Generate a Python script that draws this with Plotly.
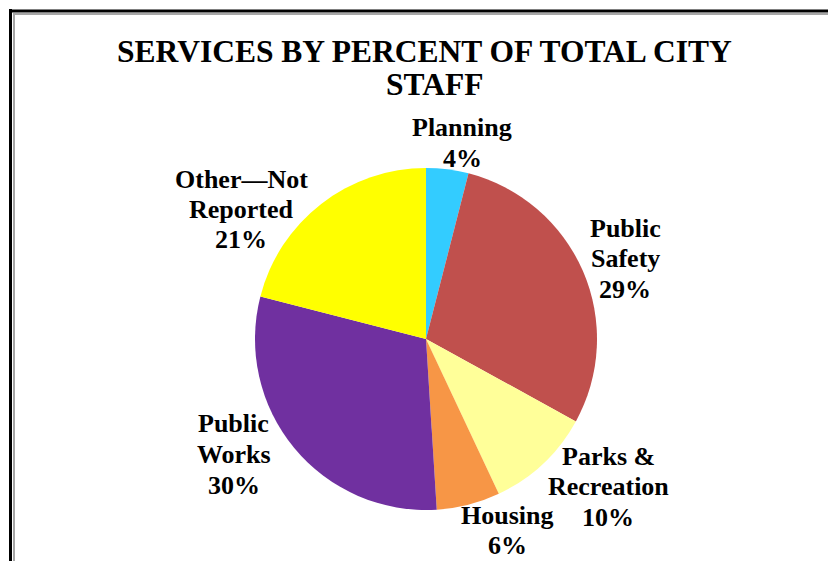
import plotly.graph_objects as go

# ---- data ----
categories = ["Planning", "Public Safety", "Parks & Recreation", "Housing",
              "Public Works", "Other—Not Reported"]
percent = [4, 29, 10, 6, 30, 21]
label_lines = [["Planning"], ["Public", "Safety"], ["Parks &", "Recreation"],
               ["Housing"], ["Public", "Works"], ["Other—Not", "Reported"]]
colors = ["#33CCFF", "#C0504D", "#FFFF99", "#F79646", "#7030A0", "#FFFF00"]
title_lines = ["SERVICES BY PERCENT OF TOTAL CITY", "STAFF"]

# ---- layout (pixel geometry) ----
W, H = 828, 561
FONT = "Liberation Serif, Times New Roman, serif"
cx, cy, r = 426, 339, 171
# centre of the first text line of each slice label (pixels) and line step
label_pos = [(462, 128), (625, 228), (608, 456), (508, 515), (234, 424), (241, 179)]
line_step = 30.5
title_pos = [(425, 52), (434, 85)]


def px(x):
    return x / W


def py(y):
    return 1 - y / H


fig = go.Figure(go.Pie(
    labels=categories,
    values=percent,
    marker=dict(colors=colors, line=dict(width=0)),
    sort=False,
    direction="clockwise",
    rotation=0,
    textinfo="none",
    hoverinfo="label+percent",
    domain=dict(x=[px(cx - r), px(cx + r)], y=[py(cy + r), py(cy - r)]),
    showlegend=False,
))

annotations = []
for (tx, ty), text in zip(title_pos, title_lines):
    annotations.append(dict(
        x=px(tx), y=py(ty), xref="paper", yref="paper", showarrow=False,
        xanchor="center", yanchor="middle", text=f"<b>{text}</b>",
        font=dict(family=FONT, size=31.5, color="black")))

for (lx, ly), lines, val in zip(label_pos, label_lines, percent):
    for i, line in enumerate(lines + [f"{val}%"]):
        annotations.append(dict(
            x=px(lx), y=py(ly + i * line_step), xref="paper", yref="paper",
            showarrow=False, xanchor="center", yanchor="middle",
            text=f"<b>{line}</b>",
            font=dict(family=FONT, size=26, color="black")))

# chart-area frame: black outer rule with a grey inner rule (left and top)
shapes = [
    dict(type="line", xref="paper", yref="paper", x0=px(10.5), x1=px(10.5),
         y0=py(9), y1=0, line=dict(color="black", width=3)),
    dict(type="line", xref="paper", yref="paper", x0=px(9), x1=1,
         y0=py(11), y1=py(11), line=dict(color="black", width=3)),
    dict(type="line", xref="paper", yref="paper", x0=px(14), x1=px(14),
         y0=py(13), y1=0, line=dict(color="#A6A6A6", width=2)),
    dict(type="line", xref="paper", yref="paper", x0=px(13), x1=1,
         y0=py(14), y1=py(14), line=dict(color="#A6A6A6", width=2)),
]

fig.update_layout(
    width=W, height=H,
    margin=dict(l=0, r=0, t=0, b=0),
    paper_bgcolor="white",
    plot_bgcolor="white",
    annotations=annotations,
    shapes=shapes,
)

fig.write_html("out.html")
